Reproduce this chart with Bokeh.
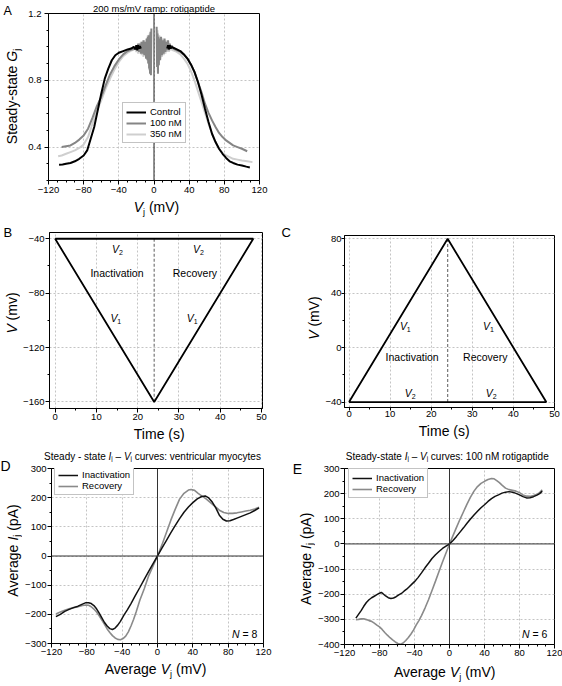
import math
from bokeh.plotting import figure
from bokeh.models import (Range1d, FixedTicker, CustomJSTickFormatter, Label, Span,
                          Legend, LegendItem)
from bokeh.layouts import column, row
from bokeh.embed import file_html
from bokeh.resources import INLINE

FONT = "Liberation Sans"

# ---------------- Panel A data: steady-state Gj vs Vj ----------------
A_ctrl_neg_v = [-108, -104, -100, -95, -90, -85, -80, -76, -72, -68, -64, -60, -56, -52, -48, -44,
                -40, -35, -30, -26, -23, -21, -20, -19, -18, -17, -16, -15]
A_ctrl_neg_g = [0.295, 0.296, 0.30, 0.305, 0.315, 0.33, 0.35, 0.38, 0.45, 0.52, 0.62, 0.72, 0.81,
                0.87, 0.92, 0.95, 0.965, 0.975, 0.985, 0.99, 1.0, 0.985, 1.01, 0.98, 1.01, 0.99,
                1.005, 0.99]
A_100_neg_v = [-105, -100, -95, -90, -85, -80, -75, -70, -65, -60, -55, -50, -45, -40, -35, -30,
               -25, -21, -20, -19, -18, -17, -16, -15, -14, -13, -12, -11, -10, -9, -8, -7.5, -7,
               -6.5, -6, -5.5, -5, -4.5, -4, -3.5, -3]
A_100_neg_g = [0.40, 0.405, 0.41, 0.425, 0.445, 0.47, 0.51, 0.575, 0.645, 0.70, 0.77, 0.835, 0.885,
               0.925, 0.955, 0.975, 0.985, 0.99, 1.01, 0.98, 1.02, 0.97, 1.02, 0.96, 1.03, 0.96,
               1.04, 0.95, 1.03, 0.93, 1.05, 0.92, 1.06, 0.90, 1.07, 0.87, 1.04, 0.84, 1.09, 0.83,
               1.11]
A_350_neg_v = [-109, -105, -100, -95, -90, -85, -80, -75, -70, -65, -60, -55, -50, -45, -40, -35,
               -30, -25, -21, -20, -19, -18, -17, -16, -15, -14, -13, -12, -11, -10, -9, -8, -7,
               -6.5, -6, -5.5, -5, -4.5, -4, -3.5]
A_350_neg_g = [0.345, 0.35, 0.36, 0.37, 0.38, 0.395, 0.415, 0.46, 0.54, 0.615, 0.68, 0.75, 0.81,
               0.865, 0.91, 0.945, 0.965, 0.98, 0.99, 0.97, 1.01, 0.96, 1.02, 0.97, 1.03, 0.95,
               1.02, 0.94, 1.04, 0.95, 1.05, 0.93, 1.07, 0.90, 1.04, 0.86, 1.08, 0.85, 1.02, 0.95]
A_ctrl_pos_v = [15, 16, 17, 18, 19, 20, 22, 26, 30, 34, 38, 42, 46, 50, 54, 58, 62, 66, 70, 74, 78,
                82, 86, 90, 95, 100, 105, 109]
A_ctrl_pos_g = [0.99, 1.01, 0.985, 1.01, 0.99, 1.0, 0.995, 0.985, 0.975, 0.955, 0.93, 0.895, 0.85,
                0.79, 0.715, 0.63, 0.55, 0.48, 0.43, 0.39, 0.36, 0.335, 0.315, 0.305, 0.295, 0.29,
                0.283, 0.278]
A_100_pos_v = [3, 3.5, 4, 4.5, 5, 5.5, 6, 7, 8, 9, 10, 11, 12, 13, 14, 15, 16, 17, 18, 19, 20, 21,
               22, 26, 30, 34, 38, 42, 46, 50, 54, 58, 62, 66, 70, 74, 78, 82, 86, 90, 95, 100, 106]
A_100_pos_g = [1.12, 0.88, 1.08, 0.84, 1.06, 0.89, 1.05, 0.92, 1.06, 0.95, 1.04, 0.96, 1.05, 0.97,
               1.03, 0.98, 1.04, 0.98, 1.02, 0.99, 1.01, 0.995, 0.99, 0.98, 0.97, 0.955, 0.93,
               0.895, 0.85, 0.79, 0.73, 0.66, 0.605, 0.56, 0.52, 0.485, 0.46, 0.44, 0.425, 0.41,
               0.40, 0.39, 0.375]
A_350_pos_v = [4, 4.5, 5, 5.5, 6, 7, 8, 9, 10, 11, 12, 13, 14, 15, 16, 17, 18, 19, 20, 21, 22, 26,
               30, 34, 38, 42, 46, 50, 54, 58, 62, 66, 70, 74, 78, 82, 86, 90, 95, 100, 106, 112]
A_350_pos_g = [1.10, 0.85, 1.05, 0.90, 1.07, 0.93, 1.04, 0.94, 1.05, 0.95, 1.03, 0.96, 1.04, 0.97,
               1.02, 0.97, 1.01, 0.98, 0.995, 0.98, 0.98, 0.97, 0.955, 0.93, 0.90, 0.855, 0.80,
               0.735, 0.67, 0.605, 0.54, 0.48, 0.43, 0.39, 0.365, 0.35, 0.34, 0.33, 0.325, 0.32,
               0.315, 0.31]
A_series = ["Control", "100 nM", "350 nM"]

# ---------------- Panels B, C: voltage protocols ----------------
B_t = [0, 24, 48, 0]
B_v = [-40, -160, -40, -40]
C_t = [0, 24, 48, 0]
C_v = [-40, 80, -40, -40]

# ---------------- Panel D: Ij-Vj, ventricular myocytes ----------------
D_inact_v = [-115, -110, -105, -100, -95, -90, -85, -81, -78, -75, -72, -69, -66, -63, -60, -57,
             -54, -51, -48, -45, -42, -38, -34, -30, -25, -20, -15, -10, -5, 0, 5, 10, 15, 20, 25,
             30, 35, 40, 45, 50, 54, 58, 62, 66, 70, 74, 78, 82, 86, 90, 95, 100, 105, 110, 115]
D_inact_i = [-208, -200, -190, -183, -177, -172, -165, -160, -160, -163, -170, -181, -196, -212,
             -228, -240, -249, -252, -247, -237, -224, -203, -184, -163, -135, -108, -80, -53, -26,
             0, 27, 53, 79, 104, 128, 150, 168, 183, 196, 204, 206, 199, 185, 165, 140, 126, 120,
             121, 125, 130, 136, 142, 148, 156, 165]
D_rec_v = [-115, -110, -105, -100, -95, -90, -85, -81, -78, -75, -72, -69, -66, -63, -60, -57, -54,
           -51, -48, -45, -42, -39, -36, -33, -30, -27, -24, -20, -15, -10, -5, 0, 5, 10, 15, 20,
           25, 30, 35, 38, 42, 46, 50, 55, 60, 65, 70, 75, 80, 85, 90, 95, 100, 105, 110, 115]
D_rec_i = [-199, -192, -186, -181, -177, -174, -170, -168, -169, -174, -182, -192, -205, -220,
           -234, -250, -262, -273, -281, -286, -287, -283, -275, -260, -240, -217, -190, -152,
           -112, -68, -34, 0, 38, 80, 122, 160, 195, 215, 226, 228, 225, 215, 206, 196, 183, 170,
           157, 149, 146, 146, 148, 151, 154, 157, 161, 167]

# ---------------- Panel E: Ij-Vj, 100 nM rotigaptide ----------------
E_inact_v = [-107, -104, -101, -98, -95, -92, -89, -86, -83, -80, -78, -76, -73, -70, -67, -64,
             -61, -58, -55, -52, -49, -46, -43, -40, -36, -32, -28, -24, -20, -16, -12, -8, -4, 0,
             4, 8, 12, 16, 20, 24, 28, 32, 36, 40, 44, 48, 52, 56, 60, 64, 68, 72, 76, 80, 84, 88,
             92, 96, 100, 103, 106]
E_inact_i = [-295, -280, -265, -248, -233, -222, -214, -208, -202, -196, -193, -198, -207, -214,
             -217, -215, -210, -203, -197, -188, -180, -170, -160, -150, -134, -115, -95, -77, -58,
             -43, -30, -18, -9, 0, 14, 30, 47, 64, 82, 99, 115, 130, 144, 156, 169, 180, 189, 195,
             202, 206, 208, 206, 201, 195, 188, 183, 184, 188, 194, 200, 210]
E_rec_v = [-107, -104, -101, -98, -95, -92, -89, -86, -83, -80, -77, -74, -71, -68, -65, -62, -59,
           -56, -53, -50, -47, -44, -41, -38, -35, -32, -28, -24, -20, -16, -12, -8, -4, 0, 4, 8,
           12, 16, 20, 24, 28, 32, 36, 40, 44, 48, 51, 54, 57, 60, 64, 68, 72, 76, 80, 84, 88, 92,
           96, 100, 103, 106]
E_rec_i = [-301, -300, -298, -298, -301, -305, -308, -315, -323, -330, -340, -352, -363, -373,
           -382, -390, -396, -399, -394, -384, -372, -358, -342, -322, -305, -285, -255, -222,
           -185, -148, -110, -72, -36, 0, 33, 66, 98, 128, 158, 186, 210, 228, 241, 249, 256, 260,
           259, 252, 244, 234, 222, 216, 213, 210, 204, 195, 190, 189, 193, 198, 204, 215]
IV_series = ["Inactivation", "Recovery"]

# ---------------- tick labels ----------------
A_xticks = [-120, -80, -40, 0, 40, 80, 120]
A_yticks = [0.4, 0.8, 1.2]
BC_tticks = [0, 10, 20, 30, 40, 50]
B_vticks = [-160, -120, -80, -40]
C_vticks = [-40, 0, 40, 80]
DE_xticks = [-120, -80, -40, 0, 40, 80, 120]
D_yticks = [-300, -200, -100, 0, 100, 200, 300]
E_yticks = [-400, -300, -200, -100, 0, 100, 200, 300]

# ---------------- helpers ----------------
W = {' ': 278, '(': 333, ')': 333, '-': 333, ':': 278, '/': 278, '=': 584, '\u2013': 556,
     '.': 278, 'A': 667, 'B': 667, 'C': 722, 'D': 722, 'E': 667, 'G': 778, 'I': 278, 'M': 833,
     'N': 722, 'R': 722, 'S': 667, 'T': 611, 'V': 667, 'a': 556, 'c': 500, 'd': 556, 'e': 556,
     'g': 556, 'i': 222, 'j': 222, 'l': 222, 'm': 833, 'n': 556, 'o': 556, 'p': 556, 'r': 333,
     's': 500, 't': 278, 'u': 556, 'v': 500, 'y': 500}
MID = 0.3465  # distance (in em) from the alphabetic baseline up to the em-box middle


def tw(s, size):
    return sum(W.get(c, 556) for c in s) * size / 1000.0


class Geo:
    def __init__(self, left, top, fw, fh, xr, yr):
        self.left, self.top, self.fw, self.fh = left, top, fw, fh
        self.x0, self.x1 = xr
        self.y0, self.y1 = yr

    def to_data(self, cx, cy):
        x = self.x0 + (cx - self.left) / self.fw * (self.x1 - self.x0)
        y = self.y1 - (cy - self.top) / self.fh * (self.y1 - self.y0)
        return x, y

    def to_px(self, x, y):
        return (self.left + (x - self.x0) / (self.x1 - self.x0) * self.fw,
                self.top + (self.y1 - y) / (self.y1 - self.y0) * self.fh)


class Canvas:
    """A figure placed at offset (ox, oy) inside a panel; texts are given in panel pixels
    as (x, baseline) of the whole run of text pieces."""

    def __init__(self, fig, ox, oy, geo):
        self.fig, self.ox, self.oy, self.geo = fig, ox, oy, geo

    def put(self, px, py, parts, angle=0.0, align="center"):
        px -= self.ox
        py -= self.oy
        total = sum(tw(t, sz) for t, it, sz, sh in parts)
        pos = {"left": 0.0, "center": -total / 2.0, "right": -total}[align]
        for t, it, sz, sh in parts:
            lead = len(t) - len(t.lstrip(" "))
            pos += tw(" " * lead, sz)
            body = t.strip(" ")
            down = sh - MID * sz
            if angle == 0.0:
                cx, cy = px + pos, py + down
            else:
                cx, cy = px + down, py - pos
            x, y = self.geo.to_data(cx, cy)
            self.fig.add_layout(Label(x=x, y=y, text=body, angle=angle, text_font=FONT,
                                      text_font_size=f"{sz}px",
                                      text_font_style="italic" if it else "normal",
                                      text_align="left", text_baseline="middle",
                                      text_color="black"))
            pos += tw(t[lead:], sz)

    def px(self, x, y):
        cx, cy = self.geo.to_px(x, y)
        return cx + self.ox, cy + self.oy


def text_fig(w, h, ox, oy):
    p = figure(width=w, height=h, x_range=Range1d(0, w), y_range=Range1d(h, 0),
               x_axis_type=None, y_axis_type=None, output_backend="svg",
               toolbar_location=None, tools="", title=None, frame_align=False,
               min_border=0, min_border_left=0, min_border_right=0,
               min_border_top=0, min_border_bottom=0)
    p.outline_line_color = None
    p.background_fill_color = "white"
    p.border_fill_color = "white"
    return Canvas(p, ox, oy, Geo(0, 0, w, h, (0, w), (h, 0)))


def panel(PW, PH, fl, ft, fw, fh, Lw, Tt, Pb, xr, yr, title=None):
    L = text_fig(Lw, PH, 0, 0)
    T = text_fig(PW - Lw, Tt, Lw, 0) if Tt > 0 else None
    ph = ft - Tt + fh + Pb
    p = figure(width=PW - Lw, height=ph, x_range=Range1d(*xr), y_range=Range1d(*yr),
               output_backend="svg", toolbar_location=None, tools="", title=title,
               frame_align=False,
               min_border_left=fl - Lw, min_border_top=ft - Tt,
               min_border_right=PW - fl - fw, min_border_bottom=Pb)
    p.outline_line_color = "black"
    p.outline_line_alpha = 1.0
    p.outline_line_width = 1
    p.background_fill_color = "white"
    p.border_fill_color = "white"
    P = Canvas(p, Lw, Tt, Geo(fl - Lw, ft - Tt, fw, fh, xr, yr))
    B = text_fig(PW - Lw, PH - Tt - ph, Lw, Tt + ph)
    figs = [c.fig for c in (T, P, B) if c is not None]
    lay = row(L.fig, column(*figs, spacing=0), spacing=0)
    return lay, L, T, P, B


NEG_FMT = "return tick < 0 ? '\u2212' + Math.abs(tick).toFixed(0) : tick.toFixed(0);"


def style(p, xt, xm, yt, ym, xfmt, yfmt, xs, ys, tick_out=4):
    for ax, t, m, f, s in ((p.xaxis[0], xt, xm, xfmt, xs), (p.yaxis[0], yt, ym, yfmt, ys)):
        ax.ticker = FixedTicker(ticks=t, minor_ticks=m)
        ax.formatter = CustomJSTickFormatter(code=f)
        ax.major_label_text_font = FONT
        ax.major_label_text_font_size = "9.5px"
        ax.major_label_text_color = "black"
        ax.axis_line_color = "black"
        ax.major_tick_line_color = "black"
        ax.minor_tick_line_color = "black"
        ax.major_tick_out = tick_out
        ax.major_tick_in = 0
        ax.minor_tick_out = 2
        ax.minor_tick_in = 0
        ax.major_label_standoff = s
    p.xgrid.ticker = FixedTicker(ticks=xt)
    p.ygrid.ticker = FixedTicker(ticks=yt)
    for gr in (p.xgrid[0], p.ygrid[0]):
        gr.grid_line_color = "#c4c4c4"
        gr.grid_line_dash = "2 2"
        gr.grid_line_width = 1


def mk_legend(items, loc):
    return Legend(items=items, location=loc, orientation="vertical",
                  label_text_font=FONT, label_text_font_size="9.5px", label_text_color="black",
                  glyph_width=20, glyph_height=10, label_height=10, label_standoff=4,
                  spacing=0, padding=3, margin=0,
                  border_line_color="#888888", border_line_width=1,
                  background_fill_color="white", background_fill_alpha=1.0)


def minors(lo, hi, step, majors):
    out = []
    k = 0
    while lo + k * step <= hi + 1e-9:
        v = round(lo + k * step, 6)
        if all(abs(v - m) > 1e-6 for m in majors):
            out.append(v)
        k += 1
    return out


def SUBJ(sz, sh):
    return ("j", False, sz, sh)


# ======================= Panel A =======================
layA, LA, TA, PA, BA = panel(280, 222, 48, 10, 211, 170, 24, 0, 18, (-120, 120), (0.2, 1.2),
                             title="200 ms/mV ramp: rotigaptide")
pA = PA.fig
pA.title.text_font = FONT
pA.title.text_font_size = "9.5px"
pA.title.text_font_style = "normal"
pA.title.text_color = "black"
pA.title.align = "center"
pA.title.offset = -5
pA.title.standoff = 0
style(pA, A_xticks, minors(-120, 120, 10, A_xticks), A_yticks, minors(0.2, 1.2, 0.1, A_yticks),
      NEG_FMT, "return tick.toFixed(1);", 2, 3)
pA.add_layout(Span(location=0, dimension="height", line_color="#222222", line_width=1))
A_col = {"Control": "#000000", "100 nM": "#858585", "350 nM": "#cfcfcf"}
r350 = pA.line(A_350_neg_v, A_350_neg_g, line_color=A_col["350 nM"], line_width=2)
pA.line(A_350_pos_v, A_350_pos_g, line_color=A_col["350 nM"], line_width=2)
r100 = pA.line(A_100_neg_v, A_100_neg_g, line_color=A_col["100 nM"], line_width=2)
pA.line(A_100_pos_v, A_100_pos_g, line_color=A_col["100 nM"], line_width=2)
rctl = pA.line(A_ctrl_neg_v, A_ctrl_neg_g, line_color=A_col["Control"], line_width=2)
pA.line(A_ctrl_pos_v, A_ctrl_pos_g, line_color=A_col["Control"], line_width=2)
pA.add_layout(mk_legend([LegendItem(label=A_series[0], renderers=[rctl]),
                         LegendItem(label=A_series[1], renderers=[r100]),
                         LegendItem(label=A_series[2], renderers=[r350])], (74, 37)))
LA.put(3, 14.7, [("A", False, 12.5, 0)], align="left")
LA.put(16.5, 96, [("Steady-state ", False, 14, 0), ("G", True, 14, 0), SUBJ(9, 3.5)],
       angle=math.pi / 2)
BA.put(156, 211, [("V", True, 14, 0), SUBJ(9, 3.5), (" (mV)", False, 14, 0)])

# ======================= Panel B =======================
layB, LB, TB, PB, BB = panel(280, 224, 46, 10, 216, 176, 20, 0, 17, (-1.36, 50.24),
                             (-164.8, -35.4))
pB = PB.fig
style(pB, BC_tticks, minors(0, 50, 5, BC_tticks), B_vticks, minors(-160, -40, 20, B_vticks),
      NEG_FMT, NEG_FMT, 1, 1)
pB.line([B_t[1], B_t[1]], [B_v[0], B_v[1]], line_color="#777777", line_width=1.2, line_dash="3 2")
pB.line(B_t, B_v, line_color="black", line_width=1.8)
LB.put(3, 15, [("B", False, 13, 0)], align="left")
LB.put(16.5, 90.5, [("V", True, 14, 0), (" (mv)", False, 14, 0)], angle=math.pi / 2)
BB.put(159, 216, [("Time (s)", False, 14, 0)])

# ======================= Panel C =======================
layC, LC, TC, PC, BC = panel(282, 224, 62, 13, 212, 172, 42, 0, 15, (-1.1, 50.0), (-44.0, 82.4))
pC = PC.fig
style(pC, BC_tticks, minors(0, 50, 5, BC_tticks), C_vticks, minors(-40, 80, 20, C_vticks),
      NEG_FMT, NEG_FMT, 0, 0, tick_out=3)
pC.line([C_t[1], C_t[1]], [C_v[0], C_v[1]], line_color="#777777", line_width=1.2, line_dash="3 2")
pC.line(C_t, C_v, line_color="black", line_width=1.8)
LC.put(1, 15, [("C", False, 13, 0)], align="left")
LC.put(38.5, 95.5, [("V", True, 14, 0), (" (mV)", False, 14, 0)], angle=math.pi / 2)
BC.put(164, 213, [("Time (s)", False, 14, 0)])


def vlab(cv, x, y, sub):
    px, py = cv.px(x, y)
    cv.put(px, py + 3.7, [("V", True, 10.5, 0), (sub, False, 7, 3)])


def plain(cv, x, y, text):
    px, py = cv.px(x, y)
    cv.put(px, py + 3.7, [(text, False, 10.5, 0)])


vlab(PB, 15.1, -47.3, "2")
vlab(PB, 34.7, -47.3, "2")
plain(PB, 14.9, -65.4, "Inactivation")
plain(PB, 33.8, -65.4, "Recovery")
vlab(PB, 14.7, -98.0, "1")
vlab(PB, 33.2, -98.0, "1")

vlab(PC, 13.7, 16.2, "1")
vlab(PC, 33.9, 16.2, "1")
plain(PC, 15.3, -7.2, "Inactivation")
plain(PC, 33.1, -7.2, "Recovery")
vlab(PC, 14.9, -33.0, "2")
vlab(PC, 34.6, -33.0, "2")


# ======================= Panels D, E =======================
def iv_panel(PW, fl, fw, fh, Lw, yr, yticks, vi, ii, vr, ir, leg_loc):
    lay, L, T, P, B = panel(PW, 238, fl, 22, fw, fh, Lw, 16, 17, (-120, 120), yr)
    p = P.fig
    style(p, DE_xticks, minors(-120, 120, 10, DE_xticks), yticks,
          minors(yr[0], yr[1], 50, yticks), NEG_FMT, NEG_FMT, 1, 1)
    p.add_layout(Span(location=0, dimension="height", line_color="#333333", line_width=1))
    p.add_layout(Span(location=0, dimension="width", line_color="#333333", line_width=1))
    rr = p.line(vr, ir, line_color="#8a8a8a", line_width=1.6)
    ri = p.line(vi, ii, line_color="#111111", line_width=1.5)
    p.add_layout(mk_legend([LegendItem(label=IV_series[0], renderers=[ri]),
                            LegendItem(label=IV_series[1], renderers=[rr])], leg_loc))
    return lay, L, T, P, B


layD, LD, TD, PD, BD = iv_panel(280, 49, 214, 175, 22, (-300, 300), D_yticks, D_inact_v,
                                D_inact_i, D_rec_v, D_rec_i, (3, 148))
layE, LE, TE, PE, BE = iv_panel(282, 62, 212, 176, 35, (-400, 300), E_yticks, E_inact_v,
                                E_inact_i, E_rec_v, E_rec_i, (4, 146))

LD.put(0, 24.7, [("D", False, 14, 0)], align="left")
TD.put(152, 13, [("Steady - state ", False, 10, 0), ("I", True, 10, 0), SUBJ(6.5, 1.5),
                 (" \u2013 ", False, 10, 0), ("V", True, 10, 0), SUBJ(6.5, 1.5),
                 (" curves: ventricular myocytes", False, 10, 0)])
LD.put(17.5, 104, [("Average ", False, 14, 0), ("I", True, 14, 0), SUBJ(9, 2.5),
                   (" (pA)", False, 14, 0)], angle=math.pi / 2)
BD.put(155, 227, [("Average ", False, 14, 0), ("V", True, 14, 0), SUBJ(9, 3.5),
                  (" (mV)", False, 14, 0)])
PD.put(256.7, 191.3, [("N", True, 10.5, 0), (" = 8", False, 10.5, 0)], align="right")

LE.put(12.3, 27.3, [("E", False, 14, 0)], align="left")
TE.put(166.7, 13, [("Steady-state ", False, 10, 0), ("I", True, 10, 0), SUBJ(6.5, 1.5),
                   (" \u2013 ", False, 10, 0), ("V", True, 10, 0), SUBJ(6.5, 1.5),
                   (" curves: 100 nM rotigaptide", False, 10, 0)])
LE.put(30, 112.3, [("Average ", False, 14, 0), ("I", True, 14, 0), SUBJ(9, 2.5),
                   (" (pA)", False, 14, 0)], angle=math.pi / 2)
BE.put(164.2, 230, [("Average ", False, 14, 0), ("V", True, 14, 0), SUBJ(9, 3.5),
                    (" (mV)", False, 14, 0)])
PE.put(266.7, 191.3, [("N", True, 10.5, 0), (" = 6", False, 10.5, 0)], align="right")

layout = column(layA, row(layB, layC, spacing=0), row(layD, layE, spacing=0), spacing=0)
open("out.html", "w").write(file_html(layout, INLINE, title="Gap junction ramps"))
